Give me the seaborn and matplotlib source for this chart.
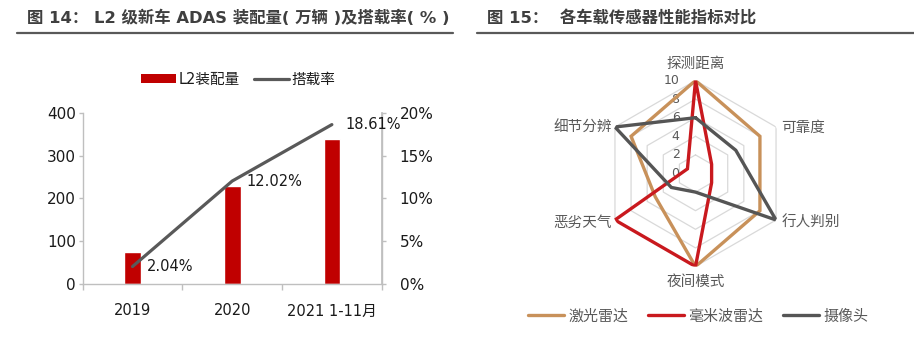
import numpy as np
import pandas as pd
import matplotlib
matplotlib.use("Agg")
import matplotlib.pyplot as plt
from matplotlib.patches import Patch
from matplotlib.lines import Line2D
import seaborn as sns

# ---- data: L2 ADAS installs and penetration ----
years = ["2019", "2020", "2021 1-11月"]
installs = [75, 229, 338]          # 万辆
rates = [2.04, 12.02, 18.61]       # %
rate_labels = ["2.04%", "12.02%", "18.61%"]

# ---- data: sensor performance radar ----
radar_axes = ["探测距离", "可靠度", "行人判别", "夜间模式", "恶劣天气", "细节分辨"]
lidar = [10, 8, 8, 10, 5, 8]
mmwave = [10, 2, 2, 10, 10, 1]
camera = [6, 5, 10, 2, 3, 10]
sensor_names = ["激光雷达", "毫米波雷达", "摄像头"]
radar_ticks = [0, 2, 4, 6, 8, 10]

sns.set_theme(style="white")
# Latin glyphs from DejaVu Sans, CJK glyphs fall through to Noto Sans CJK
FAM = ["DejaVu Sans", "Noto Sans CJK SC"]
plt.rcParams["font.family"] = FAM
plt.rcParams["axes.unicode_minus"] = False

W, H = 914, 338
fig = plt.figure(figsize=(W / 100, H / 100), dpi=100)

def fx(px):
    return px / W

def fy(py):
    return 1 - py / H

TITLE_C = "#3f3f3f"
BAR_C = "#C00000"
LINE_C = "#595959"
AX_C = "#BFBFBF"
TXT_C = "#1a1a1a"

# ---- panel titles with rule underneath ----
fig.text(fx(27), fy(18), "图 14： L2 级新车 ADAS 装配量( 万辆 )及搭载率( % )",
         fontsize=11.8, fontweight="bold", color=TITLE_C, va="center", ha="left")
fig.text(fx(487), fy(18), "图 15：  各车载传感器性能指标对比",
         fontsize=11.8, fontweight="bold", color=TITLE_C, va="center", ha="left")
for x0, x1 in [(17, 453), (477, 914)]:
    fig.add_artist(Line2D([fx(x0), fx(x1)], [fy(32.5), fy(32.5)], color="#595959",
                          lw=1.6, transform=fig.transFigure))

# ---- left: bars + penetration line ----
ax = fig.add_axes([fx(82.7), fy(284), fx(381.7) - fx(82.7), fy(112.7) - fy(284)])
df = pd.DataFrame({"year": years, "installs": installs, "rate": rates})
sns.barplot(data=df, x="year", y="installs", color=BAR_C, saturation=1,
            width=0.167, ax=ax)
ax.set_xlim(-0.5, 2.5)
ax.set_ylim(0, 400)
ax.set_yticks([0, 100, 200, 300, 400])
ax.set_xlabel("")
ax.set_ylabel("")
ax.spines["top"].set_visible(False)
for s in ["left", "right", "bottom"]:
    ax.spines[s].set_color(AX_C)
    ax.spines[s].set_linewidth(1.0)
ax.tick_params(axis="y", which="both", left=True, length=3, width=1, color=AX_C,
               labelsize=11, labelcolor=TXT_C, pad=2)
ax.tick_params(axis="x", which="major", bottom=False, labelsize=10.5,
               labelcolor=TXT_C, pad=8)
ax.set_xticks([-0.5, 0.5, 1.5, 2.5], minor=True)
ax.tick_params(axis="x", which="minor", bottom=True, length=4, width=1, color=AX_C)

ax2 = ax.twinx()
xs = np.arange(len(years))
sns.lineplot(x=xs, y=rates, color=LINE_C, lw=2.3, ax=ax2, legend=False)
ax2.set_ylim(0, 20)
ax2.set_yticks([0, 5, 10, 15, 20])
ax2.set_yticklabels([f"{v}%" for v in [0, 5, 10, 15, 20]])
ax2.set_xlim(-0.5, 2.5)
ax2.spines["top"].set_visible(False)
ax2.spines["left"].set_visible(False)
ax2.spines["bottom"].set_visible(False)
ax2.spines["right"].set_color(AX_C)
ax2.tick_params(axis="y", right=True, length=3, width=1, color=AX_C,
                labelsize=11, labelcolor=TXT_C, pad=10)
for x, r, lab in zip(xs, rates, rate_labels):
    ax2.annotate(lab, xy=(x, r), xytext=(10, 0), textcoords="offset points",
                 ha="left", va="center", fontsize=10.5, color=TXT_C)

fig.legend(handles=[Patch(facecolor=BAR_C, edgecolor="none"),
                    Line2D([], [], color=LINE_C, lw=2.3)],
           labels=["L2装配量", "搭载率"], loc="center", ncol=2,
           bbox_to_anchor=(fx(238), fy(79)), frameon=False, fontsize=10.5,
           handlelength=2.4, handleheight=0.6, handletextpad=0.15,
           columnspacing=1.0, labelcolor=TXT_C)

# ---- right: radar chart ----
cx, cy, R = 695.5, 173.5, 93
rax = fig.add_axes([fx(cx - R), fy(cy + R), fx(2 * R), (2 * R) / H],
                   projection="polar")
rax.set_theta_zero_location("N")
rax.set_theta_direction(-1)
rax.set_ylim(0, 10)
rax.grid(False)
rax.spines["polar"].set_visible(False)
rax.set_xticks([])
rax.set_yticks([])
rax.patch.set_alpha(0)

theta = np.deg2rad(np.arange(len(radar_axes)) * 60.0)
theta_c = np.append(theta, theta[0])
for lvl in radar_ticks[1:]:
    rax.plot(theta_c, [lvl] * len(theta_c), color="#D9D9D9", lw=0.9, zorder=1)

series_colors = ["#C8915A", "#C9191E", "#555555"]
handles = []
for vals, col, name in zip([lidar, mmwave, camera], series_colors, sensor_names):
    v = np.append(vals, vals[0])
    h, = rax.plot(theta_c, v, color=col, lw=2.4, zorder=3, solid_joinstyle="miter",
                  label=name)
    handles.append(h)

for t in radar_ticks:
    rax.annotate(str(t), xy=(0, t), xytext=(-11.5, 0), textcoords="offset points",
                 ha="right", va="center", fontsize=9, color="#595959", zorder=2)

label_place = [((0, 12), "center", "center"),
               ((4, 0), "left", "center"),
               ((4, -1.5), "left", "center"),
               ((0, -10.5), "center", "center"),
               ((-2.5, -1.5), "right", "center"),
               ((-2.5, 0), "right", "center")]
for ang, name, (off, ha, va) in zip(theta, radar_axes, label_place):
    rax.annotate(name, xy=(ang, 10), xytext=off, textcoords="offset points",
                 ha=ha, va=va, fontsize=10.5, color="#595959",
                 annotation_clip=False)

fig.legend(handles=handles, labels=sensor_names, loc="center", ncol=3,
           bbox_to_anchor=(fx(698), fy(316)), frameon=False, fontsize=10.8,
           handlelength=2.4, handletextpad=0.3, columnspacing=1.3,
           labelcolor="#595959")

fig.savefig("out.png", dpi=100)
